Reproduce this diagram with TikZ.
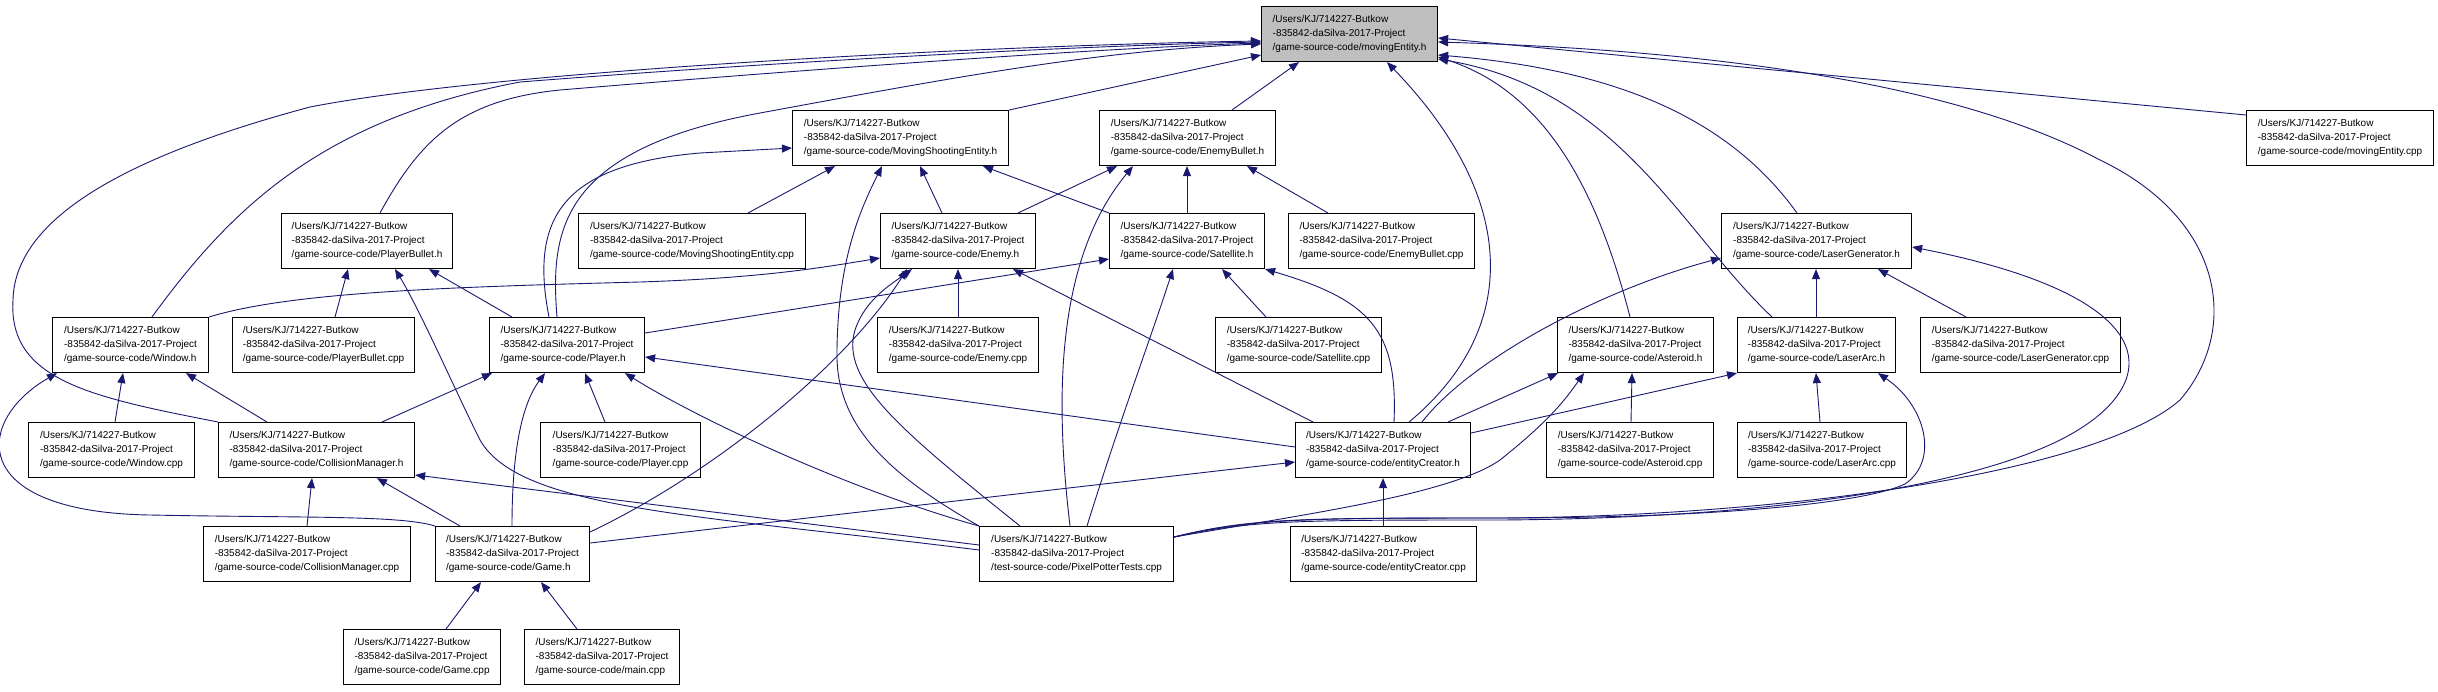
\documentclass[tikz,border=0pt]{standalone}
\usepackage{fontspec}
\setmainfont{Liberation Sans}
\usetikzlibrary{arrows.meta}
\definecolor{mblue}{HTML}{191970}
\definecolor{mgrey}{HTML}{BFBFBF}
\newcommand{\kjpath}[1]{/Users/KJ/714227-Butkow\\-835842-daSilva-2017-Project\\#1}
\begin{document}
\begin{tikzpicture}[x=1pt,y=-1pt,
  box/.style={draw=black, line width=1.1pt, fill=white, inner sep=0pt, minimum height=55pt,
    anchor=north west, align=left, font=\fontsize{10}{14.3}\selectfont},
  edge/.style={draw=mblue, line width=0.9pt, -{Triangle[length=10pt,width=8pt]}}]
\path[use as bounding box, fill=white] (0,0) rectangle (2438,691);

% nodes
\node[box, minimum width=176pt, fill=mgrey] (me) at (1261,6) {\kjpath{/game-source-code/movingEntity.h}};
\node[box, minimum width=187pt] (mecpp) at (2246,110) {\kjpath{/game-source-code/movingEntity.cpp}};
\node[box, minimum width=216pt] (mse) at (792,110) {\kjpath{/game-source-code/MovingShootingEntity.h}};
\node[box, minimum width=176pt] (eb) at (1099,110) {\kjpath{/game-source-code/EnemyBullet.h}};
\node[box, minimum width=171pt] (pb) at (281,213) {\kjpath{/game-source-code/PlayerBullet.h}};
\node[box, minimum width=227pt] (msecpp) at (578,213) {\kjpath{/game-source-code/MovingShootingEntity.cpp}};
\node[box, minimum width=155pt] (enemy) at (880,213) {\kjpath{/game-source-code/Enemy.h}};
\node[box, minimum width=155pt] (sat) at (1109,213) {\kjpath{/game-source-code/Satellite.h}};
\node[box, minimum width=186pt] (ebcpp) at (1288,213) {\kjpath{/game-source-code/EnemyBullet.cpp}};
\node[box, minimum width=190pt] (lg) at (1721,213) {\kjpath{/game-source-code/LaserGenerator.h}};
\node[box, minimum width=156pt] (win) at (52,317) {\kjpath{/game-source-code/Window.h}};
\node[box, minimum width=182pt] (pbcpp) at (232,317) {\kjpath{/game-source-code/PlayerBullet.cpp}};
\node[box, minimum width=155pt] (player) at (489,317) {\kjpath{/game-source-code/Player.h}};
\node[box, minimum width=161pt] (enemycpp) at (877,317) {\kjpath{/game-source-code/Enemy.cpp}};
\node[box, minimum width=166pt] (satcpp) at (1215,317) {\kjpath{/game-source-code/Satellite.cpp}};
\node[box, minimum width=156pt] (ast) at (1557,317) {\kjpath{/game-source-code/Asteroid.h}};
\node[box, minimum width=158pt] (la) at (1737,317) {\kjpath{/game-source-code/LaserArc.h}};
\node[box, minimum width=200pt] (lgcpp) at (1920,317) {\kjpath{/game-source-code/LaserGenerator.cpp}};
\node[box, minimum width=166pt] (wincpp) at (28,422) {\kjpath{/game-source-code/Window.cpp}};
\node[box, minimum width=196pt] (cm) at (218,422) {\kjpath{/game-source-code/CollisionManager.h}};
\node[box, minimum width=160pt] (playercpp) at (540,422) {\kjpath{/game-source-code/Player.cpp}};
\node[box, minimum width=175pt] (ec) at (1295,422) {\kjpath{/game-source-code/entityCreator.h}};
\node[box, minimum width=167pt] (astcpp) at (1546,422) {\kjpath{/game-source-code/Asteroid.cpp}};
\node[box, minimum width=169pt] (lacpp) at (1737,422) {\kjpath{/game-source-code/LaserArc.cpp}};
\node[box, minimum width=207pt] (cmcpp) at (203,526) {\kjpath{/game-source-code/CollisionManager.cpp}};
\node[box, minimum width=154pt] (game) at (435,526) {\kjpath{/game-source-code/Game.h}};
\node[box, minimum width=194pt] (ppt) at (979,526) {\kjpath{/test-source-code/PixelPotterTests.cpp}};
\node[box, minimum width=186pt] (eccpp) at (1290,526) {\kjpath{/game-source-code/entityCreator.cpp}};
\node[box, minimum width=157pt] (gamecpp) at (343,629) {\kjpath{/game-source-code/Game.cpp}};
\node[box, minimum width=155pt] (maincpp) at (524,629) {\kjpath{/game-source-code/main.cpp}};

% edges into movingEntity.h
\draw[edge] (mecpp.west |- 0,115) -- (me.east |- 0,38);
\draw[edge] (ppt.east |- 0,537) .. controls (1250,518) and (1300,518) .. (1500,518)
  .. controls (1800,516) and (2100,470) .. (2180,400)
  .. controls (2240,330) and (2225,220) .. (2100,160)
  .. controls (1950,80) and (1700,50) .. (me.east |- 0,42);
\draw[edge] (lg.north -| 1797,0) .. controls (1730,120) and (1620,70) .. (me.east |- 0,55);
\draw[edge] (ast.north -| 1630,0) .. controls (1595,180) and (1540,90) .. (me.east |- 0,57);
\draw[edge] (la.north -| 1772,0) .. controls (1680,230) and (1620,90) .. (me.east |- 0,59);
\draw[edge] (ec.north -| 1409,0) .. controls (1520,330) and (1520,200) .. (me.south -| 1387,0);
\draw[edge] (eb.north -| 1232,0) -- (me.south -| 1299,0);
\draw[edge] (mse.north east) -- (me.west |- 0,55);
\draw[edge] (player.north -| 557,0) .. controls (550,230) and (560,150) .. (760,113)
  .. controls (950,78) and (1100,50) .. (me.west |- 0,44);
\draw[edge] (pb.north -| 380,0) .. controls (420,140) and (460,100) .. (560,90)
  .. controls (800,70) and (1100,48) .. (me.west |- 0,43);
\draw[edge] (win.north -| 152,0) .. controls (230,210) and (320,120) .. (520,82)
  .. controls (800,60) and (1100,45) .. (me.west |- 0,42);
\draw[edge] (cm.north west) .. controls (90,397) and (8,380) .. (13,300)
  .. controls (15,210) and (150,150) .. (310,107)
  .. controls (500,70) and (1000,45) .. (me.west |- 0,41);

% edges into MovingShootingEntity.h
\draw[edge] (msecpp.north -| 748,0) -- (mse.south -| 835,0);
\draw[edge] (ppt.north west) .. controls (880,470) and (835,420) .. (837,350)
  .. controls (838,260) and (860,210) .. (mse.south -| 882,0);
\draw[edge] (enemy.north -| 942,0) -- (mse.south -| 920,0);
\draw[edge] (sat.north west) -- (mse.south -| 983,0);
\draw[edge] (player.north -| 549,0) .. controls (530,220) and (560,165) .. (700,153) -- (mse.west |- 0,148);

% edges into EnemyBullet.h
\draw[edge] (enemy.north -| 1018,0) -- (eb.south -| 1117,0);
\draw[edge] (ppt.north -| 1070,0) .. controls (1055,400) and (1055,260) .. (eb.south -| 1133,0);
\draw[edge] (sat.north -| 1187,0) -- (eb.south -| 1187,0);
\draw[edge] (ebcpp.north -| 1328,0) -- (eb.south -| 1247,0);

% edges into PlayerBullet.h
\draw[edge] (pbcpp.north -| 335,0) -- (pb.south -| 348,0);
\draw[edge] (ppt.west |- 0,550) .. controls (700,515) and (520,510) .. (480,440)
  .. controls (455,390) and (420,310) .. (pb.south -| 395,0);
\draw[edge] (player.north -| 512,0) -- (pb.south -| 429,0);

% edges into Enemy.h
\draw[edge] (enemycpp.north -| 958,0) -- (enemy.south -| 958,0);
\draw[edge] (win.north east) .. controls (290,292) and (450,287) .. (640,282)
  .. controls (760,278) and (820,268) .. (enemy.west |- 0,258);
\draw[edge] (game.east |- 0,532) .. controls (720,470) and (850,360) .. (enemy.south -| 907,0);
\draw[edge] (ppt.north -| 1020,0) .. controls (900,430) and (840,380) .. (855,330)
  .. controls (865,300) and (890,285) .. (enemy.south -| 912,0);
\draw[edge] (ec.north -| 1313,0) -- (enemy.south -| 1013,0);

% edges into Satellite.h
\draw[edge] (satcpp.north -| 1266,0) -- (sat.south -| 1222,0);
\draw[edge] (player.east |- 0,333) -- (sat.west |- 0,259);
\draw[edge] (ppt.north -| 1087,0) .. controls (1120,420) and (1150,340) .. (sat.south -| 1173,0);
\draw[edge] (ec.north -| 1394,0) .. controls (1398,330) and (1370,300) .. (sat.south east);

% edges into LaserGenerator.h
\draw[edge] (la.north -| 1816,0) -- (lg.south -| 1816,0);
\draw[edge] (lgcpp.north -| 1966,0) -- (lg.south -| 1878,0);
\draw[edge] (ec.north -| 1422,0) .. controls (1470,360) and (1600,290) .. (lg.west |- 0,258);
\draw[edge] (ppt.east |- 0,537) .. controls (1250,520) and (1300,520) .. (1500,520)
  .. controls (1800,518) and (1980,480) .. (2060,440)
  .. controls (2160,390) and (2180,300) .. (lg.east |- 0,247);

% edges into Window.h
\draw[edge] (game.north west) .. controls (400,515) and (300,518) .. (150,515)
  .. controls (-35,512) and (-25,420) .. (win.south -| 57,0);
\draw[edge] (wincpp.north -| 115,0) -- (win.south -| 123,0);
\draw[edge] (cm.north -| 267,0) -- (win.south -| 186,0);

% edges into Player.h
\draw[edge] (playercpp.north -| 605,0) -- (player.south -| 585,0);
\draw[edge] (cm.north -| 382,0) -- (player.south -| 492,0);
\draw[edge] (game.north -| 512,0) .. controls (512,440) and (525,400) .. (player.south -| 545,0);
\draw[edge] (ppt.north west) .. controls (850,490) and (700,420) .. (player.south -| 625,0);
\draw[edge] (ec.west |- 0,447) -- (player.east |- 0,357);

% edges into CollisionManager.h
\draw[edge] (cmcpp.north -| 307,0) -- (cm.south -| 312,0);
\draw[edge] (game.north -| 460,0) -- (cm.south -| 377,0);
\draw[edge] (ppt.west |- 0,545) -- (cm.east |- 0,475);

% edges into entityCreator.h
\draw[edge] (eccpp.north -| 1383,0) -- (ec.south -| 1383,0);
\draw[edge] (game.east |- 0,543) -- (ec.west |- 0,462);

% edges into Asteroid.h
\draw[edge] (astcpp.north -| 1631,0) -- (ast.south -| 1632,0);
\draw[edge] (ec.north -| 1448,0) -- (ast.south -| 1558,0);
\draw[edge] (ppt.east |- 0,537) .. controls (1300,515) and (1450,495) .. (1500,460)
  .. controls (1550,420) and (1565,400) .. (ast.south -| 1584,0);

% edges into LaserArc.h
\draw[edge] (lacpp.north -| 1820,0) -- (la.south -| 1816,0);
\draw[edge] (ec.east |- 0,433) -- (la.south west);
\draw[edge] (ppt.east |- 0,537) .. controls (1250,519) and (1300,518) .. (1500,518)
  .. controls (1700,518) and (1860,505) .. (1905,484)
  .. controls (1940,460) and (1925,405) .. (la.south -| 1878,0);

% edges into Game.h
\draw[edge] (gamecpp.north -| 446,0) -- (game.south -| 481,0);
\draw[edge] (maincpp.north -| 577,0) -- (game.south -| 541,0);
\end{tikzpicture}
\end{document}
